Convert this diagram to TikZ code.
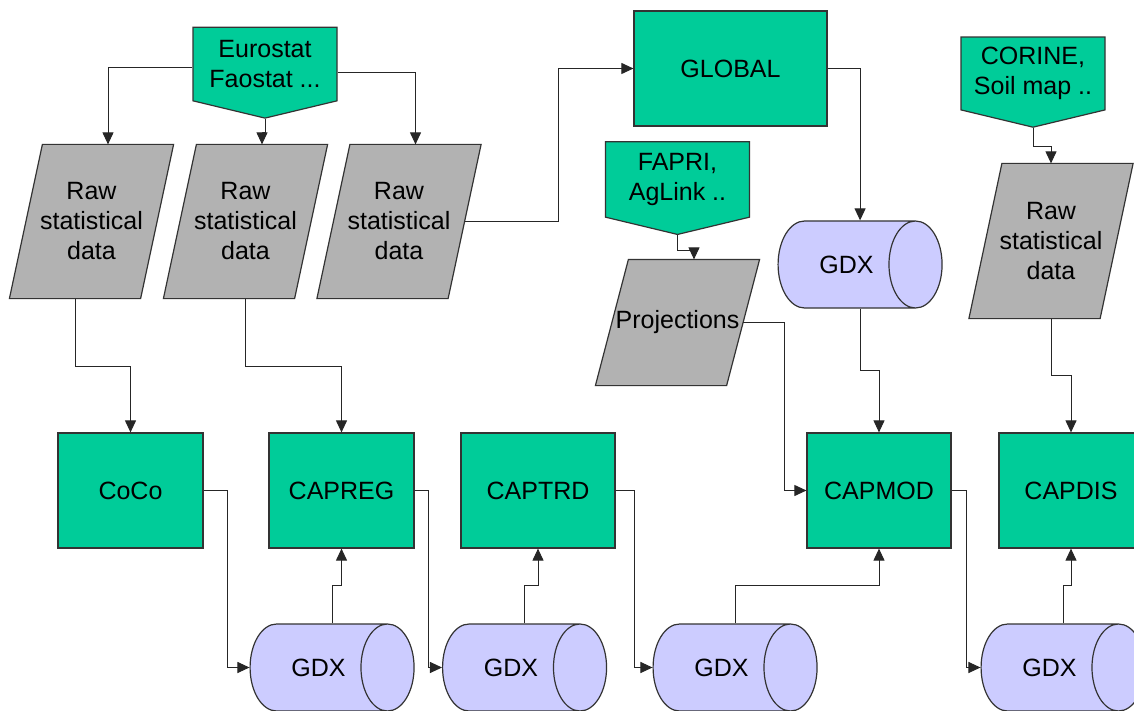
\documentclass[tikz,border=0pt]{standalone}
\usepackage{fontspec}
\setmainfont{Liberation Sans}
\usetikzlibrary{shapes.geometric,shapes.symbols,arrows.meta,backgrounds}
\definecolor{boxgreen}{HTML}{00CC99}
\definecolor{rawgray}{HTML}{B2B2B2}
\definecolor{gdxblue}{HTML}{CCCCFF}
\definecolor{edgegray}{HTML}{333333}
\tikzset{
  base/.style={draw=edgegray, line width=1.2pt, inner sep=0pt, align=center,
    font=\fontsize{25}{30}\selectfont},
  prog/.style={base, rectangle, fill=boxgreen, minimum height=115pt},
  source/.style={base, signal, signal to=south, signal pointer angle=153,
    fill=boxgreen, minimum width=144pt, minimum height=87pt},
  rawdata/.style={base, draw=none, rectangle, minimum width=130pt, minimum height=153pt},
  slant/.style={fill=rawgray, draw=edgegray, line width=1.2pt},
  gdx/.style={base, cylinder, fill=gdxblue, shape aspect=3.0,
    minimum width=87pt, minimum height=164pt},
  arr/.style={draw=black!85, line width=1pt, -{Triangle[length=12pt,width=11pt]}}
}
\begin{document}
\begin{tikzpicture}[x=1pt, y=-1pt]
        \useasboundingbox (0,0) rectangle (1134,711);

        \node[source] (eurostat) at (265,64) {Eurostat\\Faostat ...};
        \node[source] (fapri) at (677.5,179.5) {FAPRI,\\AgLink ..};
        \node[source] (corine) at (1033,73.5) {CORINE,\\Soil map ..};

        \node[rawdata] (raw1) at (91.5,221.5) {Raw\\statistical\\data};
        \node[rawdata] (raw2) at (245.5,221.5) {Raw\\statistical\\data};
        \node[rawdata] (raw3) at (399,221.5) {Raw\\statistical\\data};
        \node[rawdata, minimum height=154pt] (raw4) at (1051,241) {Raw\\statistical\\data};
        \node[rawdata, minimum height=125pt] (proj) at (677.5,322.5) {Projections};

        % slanted data shapes behind the texts
        \begin{pgfonlayer}{background}
          \foreach \n in {raw1,raw2,raw3,raw4,proj}
            \draw[slant] ([xshift=16.5pt]\n.north west) -- ([xshift=16.5pt]\n.north east)
              -- ([xshift=-16.5pt]\n.south east) -- ([xshift=-16.5pt]\n.south west) -- cycle;
        \end{pgfonlayer}

        \node[prog, minimum width=193pt] (global) at (730.5,68.5) {GLOBAL};
        \node[prog, minimum width=145pt] (coco) at (130.5,490.5) {CoCo};
        \node[prog, minimum width=145pt] (capreg) at (341.5,490.5) {CAPREG};
        \node[prog, minimum width=154pt] (captrd) at (538,490.5) {CAPTRD};
        \node[prog, minimum width=144pt] (capmod) at (879,490.5) {CAPMOD};
        \node[prog, minimum width=144pt] (capdis) at (1071,490.5) {CAPDIS};

        \node[gdx] (gdxglobal) at (846.5,264.5) {GDX};
        \node[gdx] (gdxcoco) at (318.5,667.5) {GDX};
        \node[gdx] (gdxreg) at (511,667.5) {GDX};
        \node[gdx] (gdxtrd) at (721.5,667.5) {GDX};
        \node[gdx] (gdxmod) at (1049.5,667.5) {GDX};

        % statistics into the raw data
        \draw[arr] ([yshift=-4pt]eurostat.west) -| ([xshift=16.5pt]raw1.north);
        \draw[arr] (eurostat.south) -- ++(0,14) -| ([xshift=16.5pt]raw2.north);
        \draw[arr] ([yshift=-9pt]eurostat.east) -| ([xshift=16.5pt]raw3.north);
        \draw[arr] (corine.south) -- ++(0,19) -| (raw4.north);
        \draw[arr] (fapri.south) -- ++(0,15) -| ([xshift=16.5pt]proj.north);

        % global part
        \draw[arr] (raw3.east) -- ++(94,0) |- (global.west);
        \draw[arr] (global.east) -| (gdxglobal.shape center |- gdxglobal.north);
        \draw[arr] (gdxglobal.shape center |- gdxglobal.south) -- ++(0,62) -| (capmod.north);
        \draw[arr] (proj.east) -- ++(41,0) |- (capmod.west);

        % raw data into the tasks
        \draw[arr] ([xshift=-16.5pt]raw1.south) -- ++(0,68) -| (coco.north);
        \draw[arr] (raw2.south) -- ++(0,68) -| (capreg.north);
        \draw[arr] (raw4.south) -- ++(0,57) -| (capdis.north);

        % chain over the gdx files
        \draw[arr] (coco.east) -- ++(24,0) |- (gdxcoco.west);
        \draw[arr] (gdxcoco.shape center |- gdxcoco.north) -- ++(0,-38) -| (capreg.south);
        \draw[arr] (capreg.east) -- ++(14,0) |- (gdxreg.west);
        \draw[arr] (gdxreg.shape center |- gdxreg.north) -- ++(0,-38) -| (captrd.south);
        \draw[arr] (captrd.east) -- ++(19,0) |- (gdxtrd.west);
        \draw[arr] (gdxtrd.shape center |- gdxtrd.north) -- ++(0,-38) -| (capmod.south);
        \draw[arr] (capmod.east) -- ++(15,0) |- (gdxmod.west);
        \draw[arr] (gdxmod.shape center |- gdxmod.north) -- ++(0,-38) -| (capdis.south);
\end{tikzpicture}
\end{document}
